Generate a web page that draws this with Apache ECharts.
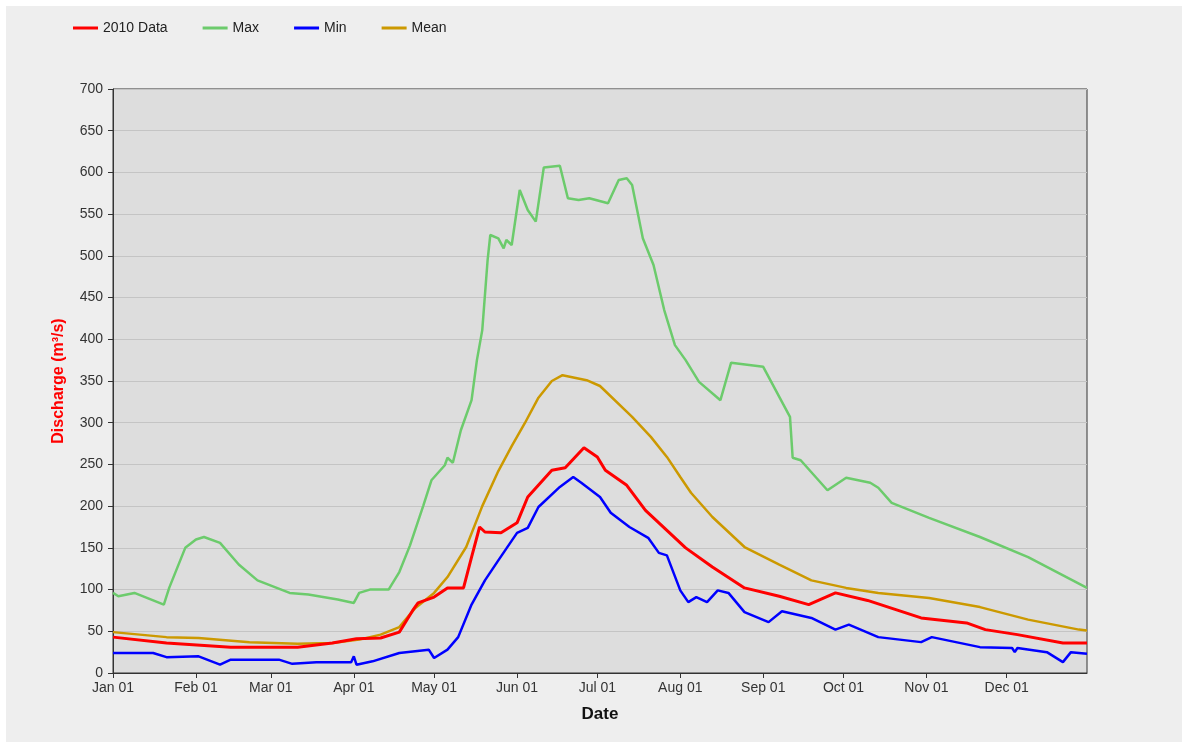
<!DOCTYPE html>
<html>
<head>
<meta charset="utf-8">
<script src="https://cdn.jsdelivr.net/npm/echarts@6/dist/echarts.min.js"></script>
<style>
  html, body { margin: 0; padding: 0; background: #ffffff; }
  #main { position: absolute; left: 6px; top: 6px; width: 1176px; height: 736px; }
</style>
</head>
<body>
<div id="main"></div>
<script>
// 数据 - [日期, 流量]
const data2010 = [
    ['2010-01-01', 43], ['2010-01-21', 36], ['2010-02-14', 31], ['2010-03-11', 31],
    ['2010-03-24', 36], ['2010-04-02', 41], ['2010-04-11', 42], ['2010-04-18', 49],
    ['2010-04-23', 75], ['2010-04-25', 84], ['2010-05-01', 91], ['2010-05-06', 102],
    ['2010-05-12', 102], ['2010-05-15', 139], ['2010-05-18', 175], ['2010-05-20', 169],
    ['2010-05-26', 168], ['2010-06-01', 180], ['2010-06-05', 211], ['2010-06-14', 243],
    ['2010-06-19', 246], ['2010-06-26', 270], ['2010-07-01', 259], ['2010-07-04', 243],
    ['2010-07-12', 225], ['2010-07-19', 195], ['2010-07-28', 168], ['2010-08-03', 150],
    ['2010-08-13', 127], ['2010-08-25', 102], ['2010-09-07', 92], ['2010-09-18', 82],
    ['2010-09-28', 96], ['2010-10-10', 87], ['2010-10-30', 66], ['2010-11-16', 60],
    ['2010-11-23', 52], ['2010-12-05', 46], ['2010-12-22', 36], ['2010-12-31', 36]
];

const dataMax = [
    ['2010-01-01', 96], ['2010-01-03', 92], ['2010-01-09', 96], ['2010-01-20', 82],
    ['2010-01-22', 102], ['2010-01-28', 150], ['2010-02-01', 160], ['2010-02-04', 163],
    ['2010-02-10', 156], ['2010-02-17', 130], ['2010-02-24', 111], ['2010-03-08', 96],
    ['2010-03-15', 94], ['2010-03-26', 88], ['2010-04-01', 84], ['2010-04-03', 96],
    ['2010-04-07', 100], ['2010-04-14', 100], ['2010-04-18', 121], ['2010-04-22', 153],
    ['2010-04-27', 201], ['2010-04-30', 231], ['2010-05-05', 249], ['2010-05-06', 258],
    ['2010-05-08', 252], ['2010-05-11', 291], ['2010-05-15', 327], ['2010-05-17', 375],
    ['2010-05-19', 411], ['2010-05-21', 495], ['2010-05-22', 525], ['2010-05-25', 521],
    ['2010-05-27', 509], ['2010-05-28', 519], ['2010-05-30', 513], ['2010-06-02', 579],
    ['2010-06-05', 555], ['2010-06-08', 541], ['2010-06-11', 606], ['2010-06-17', 608],
    ['2010-06-20', 569], ['2010-06-24', 567], ['2010-06-28', 569], ['2010-07-05', 563],
    ['2010-07-09', 591], ['2010-07-12', 593], ['2010-07-14', 585], ['2010-07-18', 521],
    ['2010-07-22', 489], ['2010-07-26', 435], ['2010-07-30', 393], ['2010-08-03', 375],
    ['2010-08-08', 349], ['2010-08-16', 327], ['2010-08-20', 372], ['2010-09-01', 367],
    ['2010-09-11', 307], ['2010-09-12', 258], ['2010-09-15', 255], ['2010-09-25', 219],
    ['2010-10-02', 234], ['2010-10-11', 228], ['2010-10-14', 222], ['2010-10-19', 204],
    ['2010-11-02', 186], ['2010-11-21', 163], ['2010-12-09', 139], ['2010-12-31', 102]
];

const dataMin = [
    ['2010-01-01', 24], ['2010-01-16', 24], ['2010-01-21', 19], ['2010-02-02', 20],
    ['2010-02-10', 10], ['2010-02-14', 16], ['2010-03-04', 16], ['2010-03-09', 11],
    ['2010-03-18', 13], ['2010-03-31', 13], ['2010-04-01', 20], ['2010-04-02', 10],
    ['2010-04-08', 14], ['2010-04-18', 24], ['2010-04-29', 28], ['2010-05-01', 18],
    ['2010-05-06', 28], ['2010-05-10', 43], ['2010-05-15', 82], ['2010-05-20', 111],
    ['2010-05-25', 135], ['2010-06-01', 168], ['2010-06-05', 174], ['2010-06-09', 199],
    ['2010-06-17', 223], ['2010-06-22', 235], ['2010-06-25', 228], ['2010-07-02', 211],
    ['2010-07-06', 192], ['2010-07-13', 175], ['2010-07-20', 162], ['2010-07-24', 144],
    ['2010-07-27', 141], ['2010-08-01', 99], ['2010-08-04', 85], ['2010-08-07', 91],
    ['2010-08-11', 85], ['2010-08-15', 99], ['2010-08-19', 96], ['2010-08-25', 73],
    ['2010-09-03', 61], ['2010-09-08', 74], ['2010-09-19', 66], ['2010-09-28', 52],
    ['2010-10-03', 58], ['2010-10-14', 43], ['2010-10-30', 37], ['2010-11-03', 43],
    ['2010-11-21', 31], ['2010-12-03', 30], ['2010-12-04', 25], ['2010-12-05', 30],
    ['2010-12-16', 25], ['2010-12-22', 13], ['2010-12-25', 25], ['2010-12-31', 23]
];

const dataMean = [
    ['2010-01-01', 49], ['2010-01-21', 43], ['2010-02-02', 42], ['2010-02-21', 37],
    ['2010-03-11', 35], ['2010-03-24', 36], ['2010-04-03', 40], ['2010-04-11', 46],
    ['2010-04-18', 55], ['2010-04-24', 78], ['2010-05-01', 96], ['2010-05-06', 115],
    ['2010-05-13', 151], ['2010-05-19', 200], ['2010-05-25', 242], ['2010-05-30', 272],
    ['2010-06-04', 300], ['2010-06-09', 330], ['2010-06-14', 350], ['2010-06-18', 357],
    ['2010-06-27', 351], ['2010-07-02', 344], ['2010-07-14', 307], ['2010-07-21', 283],
    ['2010-07-27', 259], ['2010-08-01', 235], ['2010-08-05', 216], ['2010-08-13', 187],
    ['2010-08-25', 151], ['2010-09-07', 130], ['2010-09-19', 111], ['2010-10-02', 102],
    ['2010-10-14', 96], ['2010-11-02', 90], ['2010-11-21', 79], ['2010-12-09', 64],
    ['2010-12-28', 52], ['2010-12-31', 51]
];

const seriesNames = ['2010 Data', 'Max', 'Min', 'Mean'];
const seriesColors = ['#ff0000', '#6ccb6c', '#0000ff', '#cc9900'];

const chart = echarts.init(document.getElementById('main'));
const font = 'Arial, "Liberation Sans", sans-serif';

chart.setOption({
    animation: false,
    backgroundColor: '#eeeeee',
    legend: {
        left: 62,
        top: 10,
        itemWidth: 25,
        itemHeight: 3,
        itemGap: 35,
        icon: 'rect',
        textStyle: { fontFamily: font, fontSize: 14, color: '#222' },
        data: seriesNames
    },
    grid: {
        left: 107,
        right: 95,
        top: 83,
        bottom: 69,
        show: true,
        backgroundColor: '#dddddd',
        borderColor: '#333',
        borderWidth: 1
    },
    xAxis: {
        type: 'time',
        min: '2010-01-01',
        max: '2010-12-31',
        minInterval: 28 * 24 * 3600 * 1000,
        maxInterval: 31 * 24 * 3600 * 1000,
        name: 'Date',
        nameLocation: 'middle',
        nameGap: 33,
        nameTextStyle: { fontFamily: font, fontSize: 17, fontWeight: 'bold', color: '#111' },
        axisLine: { lineStyle: { color: '#333' } },
        axisTick: { show: true, length: 5, lineStyle: { color: '#333' } },
        axisLabel: {
            fontFamily: font, fontSize: 14, color: '#333',
            formatter: '{MMM} {dd}',
            hideOverlap: false
        },
        splitLine: { show: false }
    },
    yAxis: {
        type: 'value',
        min: 0,
        max: 700,
        interval: 50,
        name: 'Discharge (m³/s)',
        nameLocation: 'middle',
        nameGap: 46,
        nameTextStyle: { fontFamily: font, fontSize: 16, fontWeight: 'bold', color: '#ff0000' },
        axisLine: { show: true, lineStyle: { color: '#333' } },
        axisTick: { show: true, length: 5, lineStyle: { color: '#333' } },
        axisLabel: { fontFamily: font, fontSize: 14, color: '#333', margin: 10 },
        splitLine: { lineStyle: { color: '#c4c4c4', width: 1 } }
    },
    series: [
        { name: seriesNames[0], type: 'line', data: data2010, showSymbol: false, z: 5,
          lineStyle: { color: seriesColors[0], width: 3 }, itemStyle: { color: seriesColors[0] } },
        { name: seriesNames[1], type: 'line', data: dataMax, showSymbol: false, z: 2,
          lineStyle: { color: seriesColors[1], width: 2.5 }, itemStyle: { color: seriesColors[1] } },
        { name: seriesNames[2], type: 'line', data: dataMin, showSymbol: false, z: 3,
          lineStyle: { color: seriesColors[2], width: 2.5 }, itemStyle: { color: seriesColors[2] } },
        { name: seriesNames[3], type: 'line', data: dataMean, showSymbol: false, z: 4,
          lineStyle: { color: seriesColors[3], width: 2.5 }, itemStyle: { color: seriesColors[3] } }
    ]
});

window.addEventListener('resize', () => chart.resize());
</script>
</body>
</html>
